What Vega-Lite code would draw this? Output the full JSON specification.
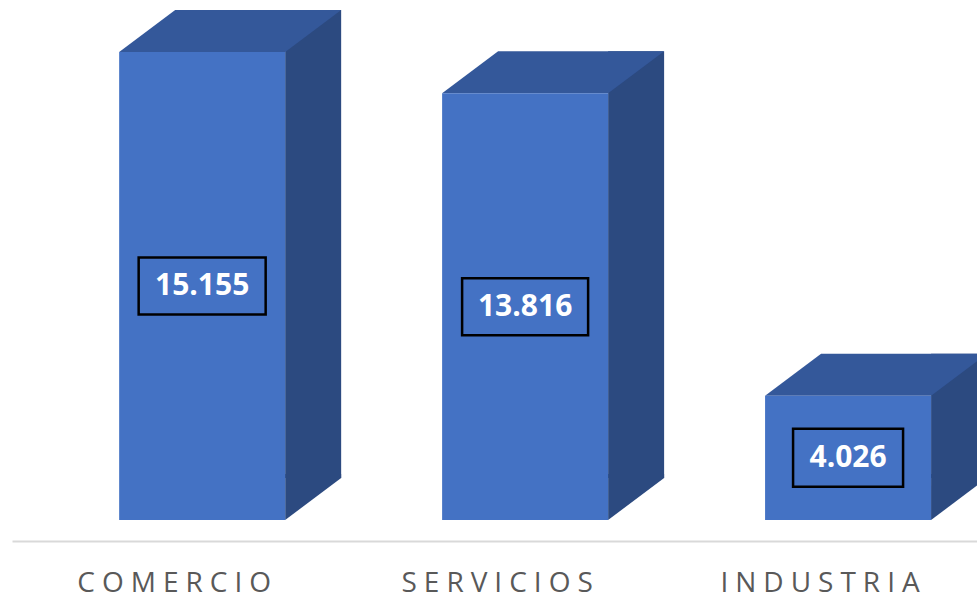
{
  "$schema": "https://vega.github.io/schema/vega-lite/v6.json",
  "width": 965,
  "height": 520,
  "autosize": {"type": "none"},
  "padding": {"left": 12, "top": 0, "right": 0, "bottom": 78},
  "background": "white",
  "config": {
    "view": {"stroke": null},
    "locale": {"number": {"decimal": ",", "thousands": ".", "grouping": [3], "currency": ["", "€"]}}
  },
  "data": {
    "values": [
      {"sector": "COMERCIO", "valor": 15155},
      {"sector": "SERVICIOS", "valor": 13816},
      {"sector": "INDUSTRIA", "valor": 4026}
    ]
  },
  "encoding": {
    "x": {
      "field": "sector",
      "type": "nominal",
      "sort": null,
      "scale": {"paddingInner": 0.486, "paddingOuter": 0.237, "align": 0.7},
      "axis": {
        "title": null,
        "ticks": false,
        "tickSize": 0,
        "grid": false,
        "domainColor": "#D9D9D9",
        "domainWidth": 2,
        "offset": 21,
        "labelFont": "Open Sans",
        "labelFontSize": 28,
        "labelColor": "#595959",
        "labelPadding": 50,
        "labelOffset": -28,
        "labelAngle": 0,
        "labelLimit": 0,
        "labelBaseline": "alphabetic",
        "labelExpr": "join(split(datum.label, ''), '\u2005')"
      }
    }
  },
  "layer": [
    {
      "mark": {"type": "bar", "width": 56, "xOffset": 111, "yOffset": -42, "y2Offset": -42, "color": "#2C4A80"},
      "encoding": {
        "y": {"field": "valor", "type": "quantitative", "scale": {"domain": [0, 16839], "nice": false}, "axis": null},
        "y2": {"datum": 0}
      }
    },
    {
      "mark": {"type": "point", "shape": "M83,-46L139,-46L139,-42L83,0Z", "size": 4, "filled": true, "opacity": 1, "color": "#2C4A80", "strokeWidth": 0},
      "encoding": {
        "y": {"datum": 0, "type": "quantitative", "scale": {"domain": [0, 16839], "nice": false}, "axis": null}
      }
    },
    {
      "mark": {"type": "point", "shape": "M-83,0L83,0L139,-42L-27,-42Z", "size": 4, "filled": true, "opacity": 1, "color": "#34589A", "strokeWidth": 0},
      "encoding": {
        "y": {"field": "valor", "type": "quantitative", "scale": {"domain": [0, 16839], "nice": false}, "axis": null}
      }
    },
    {
      "mark": {"type": "bar", "color": "#4472C4"},
      "encoding": {
        "y": {"field": "valor", "type": "quantitative", "scale": {"domain": [0, 16839], "nice": false}, "axis": null},
        "y2": {"datum": 0}
      }
    },
    {
      "mark": {"type": "point", "size": 4, "filled": false, "opacity": 1, "stroke": "black", "strokeWidth": 2.5},
      "encoding": {
        "y": {"field": "valor", "type": "quantitative", "scale": {"domain": [0, 33678], "nice": false}, "axis": null},
        "shape": {
          "field": "sector",
          "type": "nominal",
          "scale": {
            "domain": ["COMERCIO", "SERVICIOS", "INDUSTRIA"],
            "range": ["M-63.5,-28.5L63.5,-28.5L63.5,28.5L-63.5,28.5Z", "M-63,-28.5L63,-28.5L63,28.5L-63,28.5Z", "M-55,-29L55,-29L55,29L-55,29Z"]
          },
          "legend": null
        }
      }
    },
    {
      "mark": {"type": "text", "font": "Open Sans", "fontWeight": "bold", "fontSize": 30, "color": "white", "align": "center", "baseline": "middle"},
      "encoding": {
        "y": {"field": "valor", "type": "quantitative", "scale": {"domain": [0, 33678], "nice": false}, "axis": null},
        "text": {"field": "valor", "type": "quantitative", "format": ",.0f"}
      }
    }
  ],
  "resolve": {"scale": {"y": "independent"}}
}
